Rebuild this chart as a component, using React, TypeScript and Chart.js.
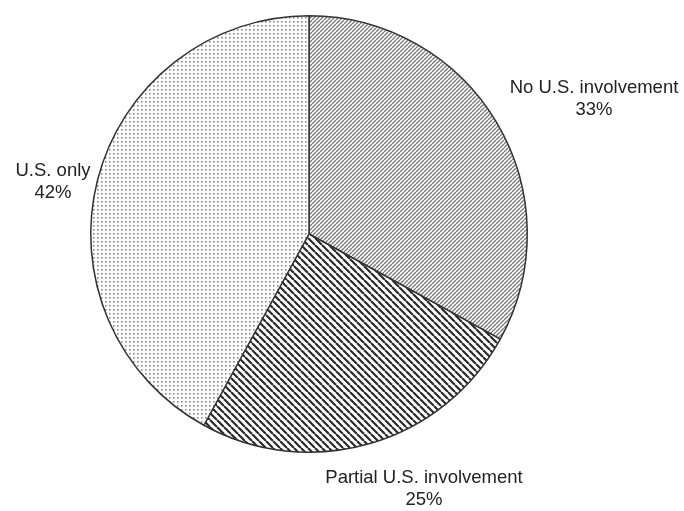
import React, { useEffect, useRef } from "react";
import { Chart, registerables } from "chart.js";

Chart.register(...registerables);

// Share of cases by degree of U.S. involvement
const categories = ["No U.S. involvement", "Partial U.S. involvement", "U.S. only"];
const shares = [33, 25, 42];
const shareLabels = ["33%", "25%", "42%"];

type Fill = "fineHatch" | "coarseHatch" | "dots";
const fills: Fill[] = ["fineHatch", "coarseHatch", "dots"];

// Label anchors (centre of the first text line) for each slice
const labelAnchors = [
  { x: 594, y: 88 },
  { x: 424, y: 478 },
  { x: 53, y: 171 },
];

function makePattern(kind: Fill): CanvasPattern | string {
  const tile = document.createElement("canvas");
  const size = kind === "coarseHatch" ? 7 : 4;
  tile.width = size;
  tile.height = size;
  const ctx = tile.getContext("2d");
  if (!ctx) return "#ccc";
  ctx.fillStyle = "#ffffff";
  ctx.fillRect(0, 0, size, size);
  if (kind === "dots") {
    ctx.fillStyle = "#8a8a8a";
    ctx.fillRect(1, 1, 1.6, 1.6);
  } else {
    ctx.strokeStyle = kind === "fineHatch" ? "#7a7a7a" : "#2a2a2a";
    ctx.lineWidth = kind === "fineHatch" ? 1.3 : 2.2;
    ctx.beginPath();
    for (let k = -1; k <= 1; k++) {
      if (kind === "fineHatch") {
        ctx.moveTo(k * size, size);
        ctx.lineTo(k * size + size, 0);
      } else {
        ctx.moveTo(k * size, 0);
        ctx.lineTo(k * size + size, size);
      }
    }
    ctx.stroke();
  }
  return ctx.createPattern(tile, "repeat") || "#ccc";
}

const sliceLabels = {
  id: "sliceLabels",
  afterDraw(chart: Chart) {
    const ctx = chart.ctx;
    ctx.save();
    ctx.fillStyle = "#222";
    ctx.font = '18.5px "Liberation Sans", Arial, sans-serif';
    ctx.textAlign = "center";
    ctx.textBaseline = "middle";
    categories.forEach((name, i) => {
      const a = labelAnchors[i];
      ctx.fillText(name, a.x, a.y);
      ctx.fillText(shareLabels[i], a.x, a.y + 22);
    });
    ctx.restore();
  },
};

export default function App() {
  const ref = useRef<HTMLCanvasElement | null>(null);

  useEffect(() => {
    if (!ref.current) return;
    const chart = new Chart(ref.current, {
      type: "pie",
      data: {
        labels: categories,
        datasets: [
          {
            data: shares,
            backgroundColor: fills.map(makePattern) as any,
            borderColor: "#333",
            borderWidth: 1.5,
          },
        ],
      },
      options: {
        responsive: false,
        animation: false,
        devicePixelRatio: 1,
        layout: { padding: { left: 90, right: 156, top: 15, bottom: 58 } },
        plugins: {
          legend: { display: false },
          tooltip: { enabled: false },
        },
      },
      plugins: [sliceLabels],
    });
    return () => chart.destroy();
  }, []);

  return (
    <div style={{ position: "fixed", left: 0, top: 0, width: 684, height: 511, background: "#fff" }}>
      <canvas ref={ref} width={684} height={511} />
    </div>
  );
}
